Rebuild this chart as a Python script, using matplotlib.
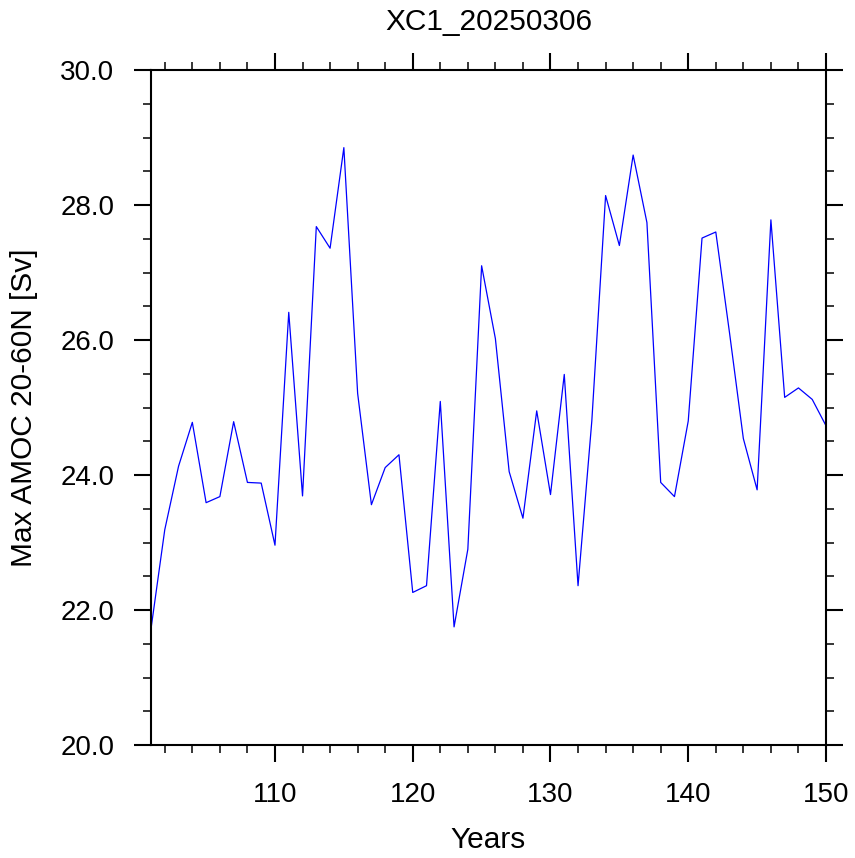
import matplotlib
matplotlib.use("Agg")
import matplotlib.pyplot as plt
from matplotlib.ticker import MultipleLocator, FormatStrFormatter

plt.rcParams['font.family'] = ['Liberation Sans', 'DejaVu Sans']

# Max AMOC 20-60N
years = list(range(101, 151))
amoc = [21.72, 23.19, 24.13, 24.78, 23.59, 23.68, 24.79, 23.89, 23.88, 22.96,
        26.41, 23.69, 27.68, 27.36, 28.85, 25.21, 23.56, 24.11, 24.30, 22.26,
        22.36, 25.09, 21.75, 22.90, 27.10, 26.02, 24.05, 23.36, 24.95, 23.71,
        25.49, 22.36, 24.80, 28.14, 27.40, 28.74, 27.74, 23.89, 23.68, 24.80,
        27.51, 27.60, 26.10, 24.54, 23.78, 27.78, 25.15, 25.29, 25.12, 24.73]

title = "XC1_20250306"

fig = plt.figure(figsize=(8.55, 8.58), dpi=100)
ax = fig.add_axes([151/855, 113/858, 675/855, 675/858])

ax.plot(years, amoc, color='blue', linewidth=0.9)

ax.set_xlim(101, 150)
ax.set_ylim(20, 30)

# ticks like NCL: outward on every side, labels only left/bottom
ax.xaxis.set_major_locator(MultipleLocator(10))
ax.xaxis.set_minor_locator(MultipleLocator(2))
ax.yaxis.set_major_locator(MultipleLocator(2))
ax.yaxis.set_minor_locator(MultipleLocator(0.5))
ax.yaxis.set_major_formatter(FormatStrFormatter('%.1f'))
ax.tick_params(which='both', direction='out', top=True, right=True,
               labelsize=20)
ax.tick_params(which='major', length=12.5, width=1.5)
ax.tick_params(which='minor', length=6, width=1.1)
ax.tick_params(axis='x', which='major', pad=14)
ax.tick_params(axis='y', which='major', pad=14)
for s in ax.spines.values():
    s.set_linewidth(1.5)

ax.set_xlabel("Years", fontsize=21.5, labelpad=13)
ax.set_ylabel("Max AMOC 20-60N [Sv]", fontsize=21.5, labelpad=16)
ax.set_title(title, fontsize=21.5, pad=29)

plt.savefig("out.png", dpi=100)
